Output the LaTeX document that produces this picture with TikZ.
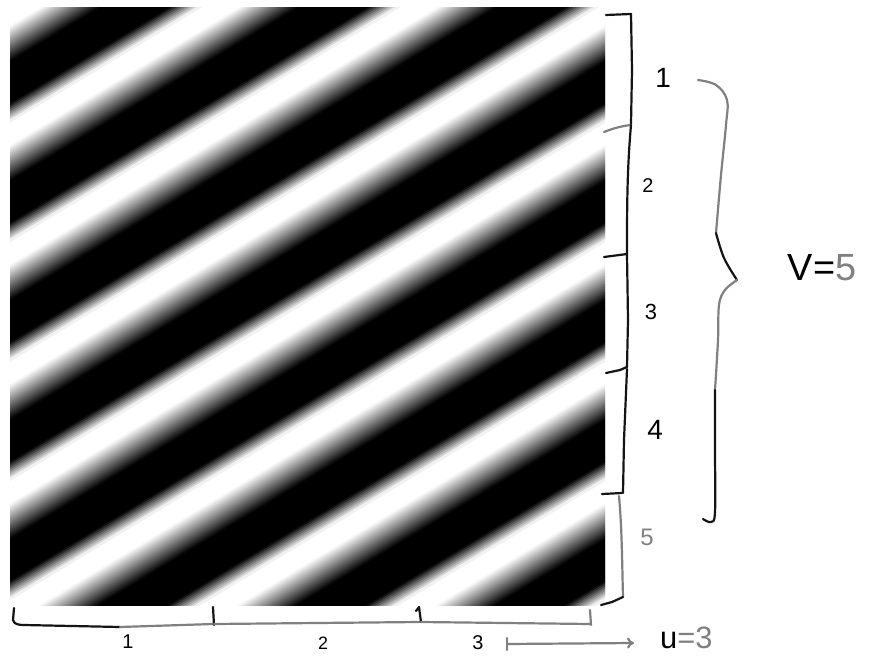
\documentclass[tikz,border=0pt]{standalone}
\usepackage{fontspec}
\setmainfont{Liberation Sans}
\usetikzlibrary{arrows.meta}
\definecolor{pencilgray}{gray}{0.5}
\tikzset{
  pen/.style={line width=2.2bp, line cap=round, line join=round},
  penk/.style={pen, draw=black!92},
  peng/.style={pen, draw=pencilgray},
  lbl/.style={inner sep=0pt, text=black},
}
\begin{document}
\begin{tikzpicture}[x=1bp,y=-1bp]
\useasboundingbox (0,0) rectangle (869,656);
\fill[white] (0,0) rectangle (869,656);
\def\H{597}
% ---------- grating ----------
\begin{scope}
  \clip (10,8) rectangle (605,605);
  \foreach \i in {0,...,509}{
    \pgfmathsetmacro\qa{-0.25+\i/60}
    \pgfmathsetmacro\qb{\qa+1.7/60}
    \pgfmathsetmacro\ph{\qa+0.5/60-0.05}
    \pgfmathsetmacro\tf{\ph-floor(\ph)}
    \pgfmathsetmacro\gv{max(min(1,max(0,1-(\tf-0.1)/0.3)),min(1,max(0,(\tf-0.75)/0.15)))}
    \pgfmathsetmacro\pcv{100*(1-\gv)}
    \ifdim\pcv pt>0.3pt
      \fill[black!\pcv] (10,{8+\qa*\H/5}) -- (605,{8+(\qa-3)*\H/5}) -- (605,{8+(\qb-3)*\H/5}) -- (10,{8+\qb*\H/5}) -- cycle;
    \fi
  }
\end{scope}
% ---------- right brackets ----------
\draw[penk] (606,15) -- (631,14) -- (632,70) -- (631,124);
\draw[peng] (604,132) .. controls (614,128) and (622,126) .. (631,125);
\draw[penk] (631,125) .. controls (627,170) and (627,210) .. (627,254);
\draw[penk] (604,257) -- (627,254) -- (628,320) -- (627,367);
\draw[penk] (606,373) -- (620,370) -- (627,367);
\draw[penk] (627,369) -- (624,440) -- (623,493);
\draw[penk] (602,494) -- (622,493);
\draw[peng] (619,496) .. controls (622,530) and (622,560) .. (623,597);
\draw[penk] (623,597) -- (612,602) -- (601,605);
% numbers on the right
\node[lbl, font=\fontsize{28}{28}\selectfont] (r1) at (663,78) {1};
\node[lbl, font=\fontsize{20}{20}\selectfont] (r2) at (648,186) {2};
\node[lbl, font=\fontsize{22}{22}\selectfont] (r3) at (651,312) {3};
\node[lbl, font=\fontsize{28}{28}\selectfont] (r4) at (655,430) {4};
\node[lbl, font=\fontsize{24}{24}\selectfont, text=pencilgray] (r5) at (647,537) {5};
% big brace
\draw[peng] plot[smooth, tension=0.6] coordinates {(698,80) (716,85) (727,100) (726,125) (721,175) (716,233)};
\draw[penk] plot[smooth, tension=0.6] coordinates {(716,233) (724,258) (737,280)};
\draw[peng] plot[smooth, tension=0.6] coordinates {(737,280) (725,290) (719,305) (718,340) (715,390)};
\draw[penk] plot[smooth, tension=0.6] coordinates {(715,390) (715,450) (715,512) (711,522) (703,519)};
\node[lbl, font=\fontsize{38}{38}\selectfont] (v) at (822,268) {V=\textcolor{pencilgray}{5}};
% ---------- bottom brackets ----------
\draw[penk] (14,608) -- (13,620) .. controls (14,624) and (18,625) .. (24,625) -- (120,627);
\draw[peng] (120,627) -- (213,624);
\draw[penk] (213,607) -- (214,625);
\draw[peng] (214,624) -- (420,622);
\draw[penk] (416,611) -- (419,607) -- (421,622);
\draw[peng] (421,622) -- (590,624);
\draw[peng] (590,610) -- (591,625);
\node[lbl, font=\fontsize{20}{20}\selectfont] (b1) at (128,642) {1};
\node[lbl, font=\fontsize{18}{18}\selectfont] (b2) at (323,643) {2};
\node[lbl, font=\fontsize{20}{20}\selectfont] (b3) at (478,643) {3};
% arrow
\coordinate (as) at (507,644);
\coordinate (ae) at (634,643);
\draw[peng] (507,638) -- (507,650);
\draw[peng, -{To[length=7bp,width=11bp]}] (as) -- (ae);
\node[lbl, font=\fontsize{31}{31}\selectfont, anchor=west] (u) at (660,638) {u\textcolor{pencilgray}{=3}};
\end{tikzpicture}
\end{document}
